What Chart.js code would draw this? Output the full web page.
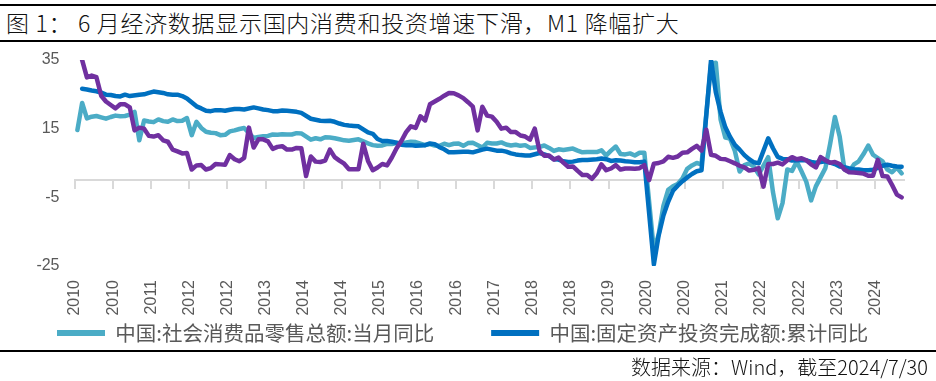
<!DOCTYPE html>
<html><head><meta charset="utf-8">
<script src="https://cdn.jsdelivr.net/npm/chart.js@4"></script>
<style>
html,body{margin:0;padding:0;background:#fff;}
#wrap{position:relative;width:936px;height:381px;overflow:hidden;background:#fff;}
.rule{position:absolute;left:0;width:936px;background:#000;}
#title{position:absolute;left:6px;top:8px;font-family:"Noto Sans CJK SC";font-weight:300;font-size:23px;letter-spacing:0.7px;white-space:pre;color:#111;line-height:28px;}
#src{position:absolute;right:8px;top:354px;font-family:"Noto Sans CJK SC";font-weight:300;font-size:20px;white-space:pre;color:#111;line-height:26px;}
#cv{position:absolute;left:0;top:42px;}
</style></head>
<body><div id="wrap">
<div class="rule" style="top:4px;height:2px"></div>
<div id="title">图 1： 6 月经济数据显示国内消费和投资增速下滑，M1 降幅扩大</div>
<div class="rule" style="top:40px;height:2px"></div>
<canvas id="cv" width="936" height="312" style="width:936px;height:312px"></canvas>
<div class="rule" style="top:350px;height:2px"></div>
<div id="src">数据来源：Wind，截至2024/7/30</div>
</div>
<script>
// Monthly categories: 2010-01 .. 2024-06 (174 months)
const startYear = 2010;
const months = [];
for (let i = 0; i < 174; i++) months.push((startYear + Math.floor(i / 12)) + '-' + String(i % 12 + 1).padStart(2, '0'));

// x-axis tick labels (one every 8 months)
const tickYears = [2010,2010,2011,2012,2012,2013,2014,2014,2015,2016,2016,2017,2018,2018,2019,2020,2020,2021,2022,2022,2023,2024];
const yTicks = [35, 15, -5, -25];

// 中国:社会消费品零售总额:当月同比 (%)
const retail = [
 14.6,22.5,18.0,18.5,18.7,18.3,17.9,18.4,18.8,18.6,18.7,19.1,
 19.9,11.6,17.4,17.1,16.9,17.7,17.2,17.0,17.7,17.2,17.3,18.1,
 13.1,17.0,15.2,14.1,13.8,13.7,13.1,13.2,14.2,14.5,14.9,15.2,
 null,12.3,12.6,12.8,12.9,13.3,13.2,13.4,13.3,13.3,13.7,13.6,
 null,11.8,12.2,11.9,12.5,12.4,12.2,11.9,11.6,11.5,11.7,11.9,
 null,10.7,10.2,10.0,10.1,10.6,10.5,10.8,10.9,11.0,11.2,11.1,
 null,10.2,10.5,10.1,10.0,10.6,10.2,10.6,10.7,10.0,10.8,10.9,
 null,9.5,10.9,10.7,10.7,11.0,10.4,10.1,10.3,10.0,10.2,9.4,
 null,9.7,10.1,9.4,8.5,9.0,8.8,9.0,9.2,8.6,8.1,8.2,
 null,8.2,8.7,7.2,8.6,9.8,7.6,7.5,7.8,7.2,8.0,8.0,
 null,-20.5,-15.8,-7.5,-2.8,-1.8,-1.1,0.5,3.3,4.3,5.0,4.6,
 null,33.8,34.2,17.7,12.4,12.1,8.5,2.5,4.4,4.9,3.9,1.7,
 null,6.7,-3.5,-11.1,-6.7,3.1,2.7,5.4,2.5,-0.5,-5.9,-1.8,
 null,3.5,10.6,18.4,12.7,3.1,2.5,4.6,5.5,7.6,10.1,7.4,
 null,5.5,3.1,2.3,3.7,2.0
];

// 中国:固定资产投资完成额:累计同比 (%)
const fai = [
 null,26.6,26.4,26.1,25.9,25.5,24.9,24.8,24.5,24.4,24.9,24.5,
 null,24.9,25.0,25.4,25.8,25.6,25.4,25.0,24.9,24.9,24.5,23.8,
 null,21.5,20.9,20.2,20.1,20.4,20.4,20.2,20.5,20.7,20.7,20.6,
 null,21.2,20.9,20.6,20.4,20.1,20.1,20.3,20.2,20.1,19.9,19.6,
 null,17.9,17.6,17.3,17.2,17.3,17.0,16.5,16.1,15.9,15.8,15.7,
 null,13.9,13.5,12.0,11.4,11.4,11.2,10.9,10.3,10.2,10.2,10.0,
 null,10.2,10.7,10.5,9.6,9.0,8.1,8.1,8.2,8.3,8.3,8.1,
 null,8.9,9.2,8.9,8.6,8.6,8.3,7.8,7.5,7.3,7.2,7.2,
 null,7.9,7.5,7.0,6.1,6.0,5.5,5.3,5.4,5.7,5.9,5.9,
 null,6.1,6.3,6.1,5.6,5.8,5.7,5.5,5.4,5.2,5.2,5.4,
 null,-24.5,-16.1,-10.3,-6.3,-3.1,-1.6,-0.3,0.8,1.8,2.6,2.9,
 null,35.0,25.6,19.9,15.4,12.6,10.3,8.9,7.3,6.1,5.2,4.9,
 null,12.2,9.3,6.8,6.2,6.1,5.7,5.8,5.9,5.8,5.3,5.1,
 null,5.5,5.1,4.7,4.0,3.8,3.4,3.2,3.1,2.9,2.9,3.0,
 null,4.2,4.5,4.2,4.0,3.9
];

// 中国:M1:同比 (%)
const m1 = [
 38.96,34.99,29.94,30.46,29.99,24.6,22.9,21.9,20.9,22.1,22.1,21.2,
 14.5,15.3,15.0,12.9,12.7,13.1,11.6,11.2,8.9,8.4,7.8,7.9,
 3.1,4.3,4.4,3.1,3.5,4.7,4.6,4.5,7.3,6.1,5.5,6.5,
 15.3,9.5,11.9,11.9,11.3,9.1,9.7,9.9,8.9,8.9,9.4,9.3,
 1.2,6.9,5.4,5.3,5.7,8.9,6.7,5.7,4.8,3.2,3.2,3.2,
 10.6,5.6,2.9,3.7,4.7,4.3,6.6,9.3,11.4,14.0,15.7,15.2,
 18.6,17.4,22.1,22.9,23.7,24.6,25.4,25.3,24.7,23.9,22.7,21.4,
 14.5,21.4,18.8,18.5,17.0,15.0,15.3,14.0,14.0,13.0,12.7,11.8,
 15.0,8.5,7.1,7.2,6.0,6.6,5.1,3.9,4.0,2.7,1.5,1.5,
 0.4,2.0,4.6,2.9,3.4,4.4,3.1,3.4,3.4,3.3,3.5,4.4,
 0.0,4.8,5.0,5.5,6.8,6.5,6.9,8.0,8.1,9.1,10.0,8.6,
 14.7,7.4,7.1,6.2,6.1,5.5,4.9,4.2,3.7,2.8,3.0,3.5,
 -1.9,4.7,4.7,5.1,4.6,5.8,6.7,6.1,6.4,5.8,4.6,3.7,
 6.7,5.8,5.1,5.3,4.7,3.1,2.3,2.2,2.1,1.9,1.3,1.3,
 5.9,1.2,1.1,-1.4,-4.2,-5.0
];

const toPoints = arr => months.map((m, i) => ({ x: i, y: arr[i] }));
const setXTicks = s => { s.ticks = tickYears.map((y, k) => ({ value: -0.5 + 8 * k })); };

new Chart(document.getElementById('cv'), {
  type: 'line',
  data: {
    datasets: [
      { label: '中国:社会消费品零售总额:当月同比', data: toPoints(retail), borderColor: '#4bacc6', backgroundColor: '#4bacc6', order: 3 },
      { label: '中国:固定资产投资完成额:累计同比', data: toPoints(fai), borderColor: '#0070c0', backgroundColor: '#0070c0', order: 2 },
      { label: '中国:M1:同比', data: toPoints(m1), borderColor: '#7030a0', backgroundColor: '#7030a0', order: 1 }
    ]
  },
  options: {
    responsive: false,
    animation: false,
    spanGaps: true,
    layout: { padding: { top: 18, right: 0, bottom: 0.75, left: 0 } },
    elements: {
      line: { borderWidth: 4.5, tension: 0, borderJoinStyle: 'round', borderCapStyle: 'round' },
      point: { radius: 0, hoverRadius: 0, borderWidth: 6 }
    },
    scales: {
      x: {
        type: 'linear', min: -0.5, max: 173.5, position: 'bottom',
        afterBuildTicks: setXTicks,
        afterFit: s => { s.height = 52; },
        grid: { display: false, drawTicks: false }, border: { display: false },
        ticks: {
          autoSkip: false, maxRotation: 90, minRotation: 90, padding: 14,
          color: '#595959', font: { family: 'Liberation Sans', size: 16 },
          callback: (v, i) => String(tickYears[i])
        }
      },
      x0: {
        type: 'linear', min: -0.5, max: 173.5, position: { y: 0 },
        afterBuildTicks: setXTicks,
        afterFit: s => { s.height = 0; },
        ticks: { display: false },
        grid: { drawOnChartArea: false, drawTicks: true, tickLength: 8, color: '#d9d9d9', lineWidth: 2 },
        border: { display: true, color: '#d9d9d9', width: 2 }
      },
      y: {
        min: -25, max: 35,
        afterBuildTicks: s => { s.ticks = yTicks.map(v => ({ value: v })); },
        afterFit: s => { s.width = 75; s.paddingTop = 0; s.paddingBottom = 0; },
        grid: { display: false, drawTicks: false }, border: { display: false },
        ticks: { padding: 15.5, color: '#595959', font: { family: 'Liberation Sans', size: 16 } }
      },
      yR: {
        position: 'right', min: -25, max: 35,
        afterFit: s => { s.width = 32; s.paddingTop = 0; s.paddingBottom = 0; },
        grid: { display: false, drawTicks: false }, border: { display: false },
        ticks: { display: false }
      }
    },
    plugins: {
      legend: {
        position: 'bottom', align: 'start',
        title: { display: true, text: '', font: { size: 12, lineHeight: 1.2 }, padding: { top: -33.325, bottom: -33.325 } },
        labels: {
          usePointStyle: true, pointStyle: 'line', pointStyleWidth: 48, padding: 57,
          color: '#595959', font: { family: 'Noto Sans CJK SC', size: 20.5 },
          filter: item => item.datasetIndex < 2,
          sort: (a, b) => a.datasetIndex - b.datasetIndex
        }
      },
      tooltip: { enabled: false }
    }
  }
});
</script>
</body></html>
